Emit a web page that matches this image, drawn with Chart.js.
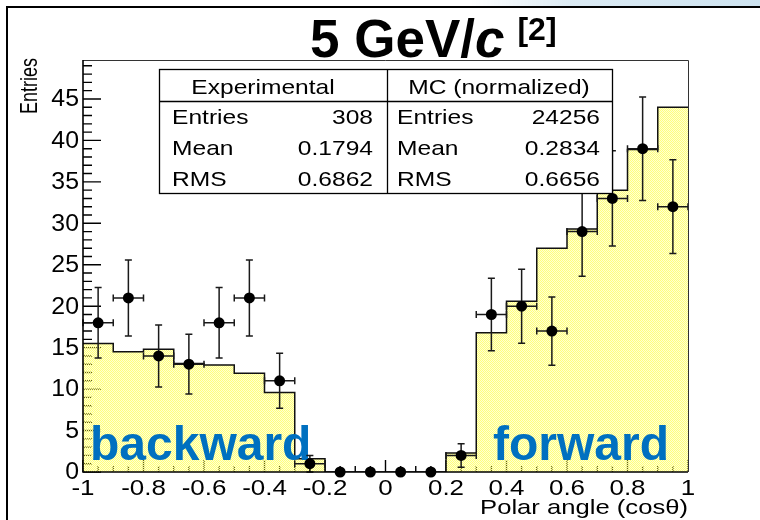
<!DOCTYPE html>
<html>
<head>
<meta charset="utf-8">
<title>Polar angle distribution, 5 GeV/c</title>
<script src="https://cdn.jsdelivr.net/npm/chart.js@4.4.1/dist/chart.umd.min.js"></script>
<style>
  html, body { margin: 0; padding: 0; background: #fff; }
  #wrap { width: 760px; height: 520px; }
</style>
</head>
<body>
<div id="wrap"><canvas id="polar" width="760" height="520"></canvas></div>
<script>
// bin centres of the cos(theta) histogram, 20 bins of width 0.1
const binCenters = [-0.95, -0.85, -0.75, -0.65, -0.55, -0.45, -0.35, -0.25, -0.15, -0.05,
                     0.05, 0.15, 0.25, 0.35, 0.45, 0.55, 0.65, 0.75, 0.85, 0.95];
const binHalfWidth = 0.05;
// measured counts per bin
const expCounts = [18, 21, 14, 13, 18, 21, 11, 1, 0, 0, 0, 0, 2, 19, 20, 17, 29, 33, 39, 32];
// simulation, scaled to the measured total
const mcCounts = [15.5, 14.5, 14.8, 13.1, 12.9, 11.9, 9.6, 1.6, 0, 0, 0, 0,
                  2.3, 16.8, 20.6, 27.0, 29.3, 34.0, 38.9, 44.0];

const xTickValues = [-1, -0.8, -0.6, -0.4, -0.2, 0, 0.2, 0.4, 0.6, 0.8, 1];
const xTickLabels = ['-1', '-0.8', '-0.6', '-0.4', '-0.2', '0', '0.2', '0.4', '0.6', '0.8', '1'];
const yTickValues = [0, 5, 10, 15, 20, 25, 30, 35, 40, 45];
const yMax = 49.7;

const statNames = ['Entries', 'Mean', 'RMS'];
const expStats = ['308', '0.1794', '0.6862'];
const mcStats = ['24256', '0.2834', '0.6656'];

const FONT = '"Liberation Sans", Arial, Helvetica, sans-serif';

// histogram outline: each bin becomes a flat segment from its low to its high edge
const mcSteps = [];
binCenters.forEach((c, i) => {
  mcSteps.push({ x: c - binHalfWidth, y: mcCounts[i] }, { x: c + binHalfWidth, y: mcCounts[i] });
});
const expPoints = binCenters.map((c, i) => ({ x: c, y: expCounts[i] }));

const canvas = document.getElementById('polar');
const ctx = canvas.getContext('2d');

// yellow checker fill, half the cells see-through so the ticks show underneath
function makeHatch() {
  const pc = document.createElement('canvas');
  pc.width = 2; pc.height = 2;
  const p = pc.getContext('2d');
  p.fillStyle = 'rgb(255,255,125)';
  p.fillRect(0, 0, 1, 1); p.fillRect(1, 1, 1, 1);
  p.fillStyle = 'rgba(255,255,125,0.35)';
  p.fillRect(1, 0, 1, 1); p.fillRect(0, 1, 1, 1);
  return ctx.createPattern(pc, 'repeat');
}

function text(c, str, x, y, o) {
  c.save();
  c.font = o.font;
  c.fillStyle = o.color || '#000';
  c.textAlign = o.align || 'left';
  c.textBaseline = o.baseline || 'alphabetic';
  c.translate(x, y);
  if (o.rotate) c.rotate(o.rotate);
  c.scale(o.sx || 1, o.sy || 1);
  c.fillText(str, 0, 0);
  c.restore();
}

const rootFrame = {
  id: 'rootFrame',
  beforeDatasetsDraw(chart) {
    const { ctx: c, chartArea: a, scales: { x, y } } = chart;
    c.save();
    c.strokeStyle = '#000';
    c.lineWidth = 1.4;
    c.beginPath();
    for (let v = 0; v <= 49; v++) {
      const py = y.getPixelForValue(v);
      c.moveTo(a.left, py);
      c.lineTo(a.left + (v % 5 === 0 ? 18 : 9), py);
    }
    for (let k = 0; k <= 40; k++) {
      const px = x.getPixelForValue(-1 + k * 0.05);
      c.moveTo(px, a.bottom);
      c.lineTo(px, a.bottom - (k % 4 === 0 ? 12 : 6));
    }
    c.stroke();
    c.restore();
  },
  beforeDatasetDraw(chart, args) {
    if (args.index !== 0) return;
    const { ctx: c, scales: { x, y } } = chart;
    // region labels sit over the simulation, under the data points
    const big = 'bold 48px ' + FONT;
    text(c, 'backward', 90, 460, { font: big, color: '#0070c0' });
    text(c, 'forward', 493, 460, { font: big, color: '#0070c0' });

    // error bars: sqrt(N) vertically, bin width horizontally
    c.save();
    c.strokeStyle = '#1a1a1a';
    c.lineWidth = 1.5;
    c.beginPath();
    expPoints.forEach(p => {
      if (p.y <= 0) return;
      const err = Math.sqrt(p.y);
      const px = x.getPixelForValue(p.x);
      const py = y.getPixelForValue(p.y);
      const yTop = y.getPixelForValue(p.y + err);
      const yBot = y.getPixelForValue(p.y - err);
      const xL = x.getPixelForValue(p.x - binHalfWidth);
      const xR = x.getPixelForValue(p.x + binHalfWidth);
      c.moveTo(px, yTop); c.lineTo(px, yBot);
      c.moveTo(px - 3.5, yTop); c.lineTo(px + 3.5, yTop);
      c.moveTo(px - 3.5, yBot); c.lineTo(px + 3.5, yBot);
      c.moveTo(xL, py); c.lineTo(xR, py);
      c.moveTo(xL, py - 3.5); c.lineTo(xL, py + 3.5);
      c.moveTo(xR, py - 3.5); c.lineTo(xR, py + 3.5);
    });
    c.stroke();
    c.restore();
  },
  afterDatasetsDraw(chart) {
    const { ctx: c, chartArea: a, scales: { x, y } } = chart;
    c.save();
    // frame
    c.strokeStyle = '#333';
    c.lineWidth = 1;
    c.beginPath();
    c.moveTo(a.left, a.top + 0.5); c.lineTo(a.right + 0.5, a.top + 0.5); c.lineTo(a.right + 0.5, a.bottom);
    c.stroke();
    c.strokeStyle = '#000';
    c.lineWidth = 1.6;
    c.beginPath();
    c.moveTo(a.left, a.top); c.lineTo(a.left, a.bottom); c.lineTo(a.right, a.bottom);
    c.stroke();

    // tick labels
    const tickFont = '22px ' + FONT;
    xTickValues.forEach((v, i) => {
      text(c, xTickLabels[i], x.getPixelForValue(v), 495, { font: tickFont, align: 'center', sx: 1.18 });
    });
    yTickValues.forEach(v => {
      text(c, String(v), 79, y.getPixelForValue(v) + 1, { font: '23px ' + FONT, align: 'right', baseline: 'middle', sx: 1.08 });
    });

    // axis titles
    text(c, 'Polar angle (cos\u03b8)', 688, 514, { font: '21px ' + FONT, align: 'right', sx: 1.22 });
    text(c, 'Entries', 37, 58, { font: '18px ' + FONT, align: 'right', rotate: -Math.PI / 2, sy: 1.3 });

    // statistics boxes
    const bx = 159.5, by = 69.5, bw = 453, bh = 124, mid = 387.5, hdr = 101.5;
    c.fillStyle = '#fff';
    c.fillRect(bx, by, bw, bh);
    c.strokeStyle = '#000';
    c.lineWidth = 1.3;
    c.strokeRect(bx, by, bw, bh);
    c.beginPath();
    c.moveTo(mid, by); c.lineTo(mid, by + bh);
    c.moveTo(bx, hdr); c.lineTo(bx + bw, hdr);
    c.stroke();
    const sf = '21px ' + FONT;
    text(c, 'Experimental', 263, 94, { font: sf, align: 'center', sx: 1.17 });
    text(c, 'MC (normalized)', 499, 94, { font: sf, align: 'center', sx: 1.17 });
    statNames.forEach((name, i) => {
      const base = 124 + i * 31;
      text(c, name, 172, base, { font: sf, sx: 1.17 });
      text(c, expStats[i], 373, base, { font: sf, align: 'right', sx: 1.17 });
      text(c, name, 397, base, { font: sf, sx: 1.17 });
      text(c, mcStats[i], 600, base, { font: sf, align: 'right', sx: 1.17 });
    });

    // title: 5 GeV/c [2]
    c.font = 'bold 53px ' + FONT;
    c.fillStyle = '#000';
    c.textBaseline = 'alphabetic';
    c.textAlign = 'left';
    let tx = 310;
    c.fillText('5 GeV/', tx, 57);
    tx += c.measureText('5 GeV/').width;
    c.font = 'italic bold 53px ' + FONT;
    c.fillText('c', tx, 57);
    tx += c.measureText('c').width + 13;
    c.font = 'bold 32px ' + FONT;
    c.fillText('[2]', tx, 40);
    c.restore();
  },
  afterDraw(chart) {
    const c = chart.ctx;
    c.save();
    // faint slide background peeking above the pad, top right
    const g = c.createLinearGradient(470, 0, 760, 0);
    g.addColorStop(0, 'rgba(215,232,242,0)');
    g.addColorStop(0.35, 'rgba(215,232,242,0.9)');
    g.addColorStop(1, 'rgba(200,224,238,0.9)');
    c.fillStyle = g;
    c.fillRect(470, 0, 290, 6);
    // pad border
    c.fillStyle = '#000';
    c.fillRect(6, 6, 2, 514);
    c.fillRect(6, 6, 754, 2);
    c.restore();
  }
};

new Chart(ctx, {
  type: 'scatter',
  data: {
    datasets: [
      {
        label: 'Experimental',
        data: expPoints,
        order: 0,
        pointRadius: 5.5,
        pointHoverRadius: 5.5,
        pointBackgroundColor: '#000',
        pointBorderWidth: 0,
        clip: 10
      },
      {
        type: 'line',
        label: 'MC (normalized)',
        data: mcSteps,
        order: 1,
        borderColor: '#111',
        borderWidth: 1.5,
        pointRadius: 0,
        tension: 0,
        fill: 'origin',
        backgroundColor: makeHatch()
      }
    ]
  },
  options: {
    responsive: false,
    devicePixelRatio: 1,
    animation: false,
    layout: { padding: { left: 83, right: 72, top: 60, bottom: 48 } },
    plugins: { legend: { display: false }, tooltip: { enabled: false } },
    scales: {
      x: { type: 'linear', min: -1, max: 1, display: false },
      y: { type: 'linear', min: 0, max: yMax, display: false }
    }
  },
  plugins: [rootFrame]
});
</script>
</body>
</html>
